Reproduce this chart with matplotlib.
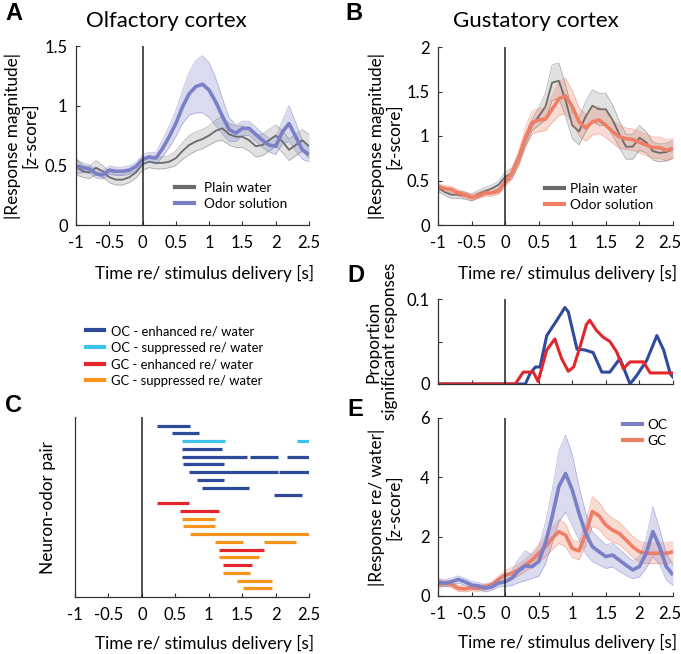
import numpy as np
import matplotlib
matplotlib.use('Agg')
import matplotlib.pyplot as plt
from matplotlib.lines import Line2D
from matplotlib.transforms import ScaledTranslation

plt.rcParams['font.family'] = ['Lato', 'DejaVu Sans']
plt.rcParams['font.size'] = 12

# time grid of the averaged traces (s)
t = [-1.0, -0.9, -0.8, -0.7, -0.6, -0.5, -0.4, -0.3, -0.2, -0.1,
     0.0, 0.1, 0.2, 0.3, 0.4, 0.5, 0.6, 0.7, 0.8, 0.9,
     1.0, 1.1, 1.2, 1.3, 1.4, 1.5, 1.6, 1.7, 1.8, 1.9,
     2.0, 2.1, 2.2, 2.3, 2.4, 2.5]

# panel A - olfactory cortex
a_odor = [0.49, 0.48, 0.47, 0.43, 0.42, 0.46, 0.45, 0.45, 0.46, 0.49,
          0.55, 0.57, 0.56, 0.64, 0.74, 0.85, 0.99, 1.10, 1.16, 1.18,
          1.13, 1.03, 0.91, 0.80, 0.77, 0.81, 0.81, 0.76, 0.71, 0.67,
          0.66, 0.78, 0.85, 0.74, 0.63, 0.59]
a_odor_sem = [0.06, 0.04, 0.035, 0.035, 0.035, 0.035, 0.035, 0.035, 0.035, 0.035,
              0.04, 0.04, 0.05, 0.07, 0.09, 0.11, 0.14, 0.18, 0.22, 0.24,
              0.23, 0.20, 0.15, 0.10, 0.07, 0.06, 0.06, 0.06, 0.06, 0.06,
              0.07, 0.10, 0.15, 0.12, 0.08, 0.06]
a_water = [0.49, 0.45, 0.44, 0.48, 0.45, 0.40, 0.38, 0.38, 0.40, 0.44,
           0.51, 0.53, 0.52, 0.52, 0.53, 0.56, 0.62, 0.67, 0.70, 0.72,
           0.75, 0.79, 0.81, 0.76, 0.74, 0.74, 0.71, 0.66, 0.67, 0.71,
           0.75, 0.70, 0.63, 0.67, 0.71, 0.66]
a_water_sem = [0.07, 0.05, 0.05, 0.06, 0.05, 0.045, 0.045, 0.045, 0.045, 0.045,
               0.05, 0.05, 0.05, 0.05, 0.05, 0.06, 0.07, 0.08, 0.08, 0.08,
               0.08, 0.09, 0.10, 0.09, 0.09, 0.09, 0.09, 0.09, 0.09, 0.09,
               0.09, 0.09, 0.09, 0.09, 0.09, 0.10]

# panel B - gustatory cortex
b_odor = [0.43, 0.41, 0.40, 0.36, 0.34, 0.31, 0.33, 0.36, 0.36, 0.38,
          0.48, 0.58, 0.75, 0.98, 1.15, 1.18, 1.19, 1.30, 1.42, 1.45,
          1.33, 1.16, 1.09, 1.16, 1.18, 1.12, 1.05, 0.99, 0.97, 0.96,
          0.93, 0.90, 0.87, 0.87, 0.84, 0.86]
b_odor_sem = [0.035, 0.035, 0.035, 0.035, 0.035, 0.035, 0.035, 0.035, 0.035, 0.035,
              0.05, 0.06, 0.08, 0.11, 0.13, 0.13, 0.13, 0.15, 0.19, 0.20,
              0.18, 0.16, 0.15, 0.15, 0.15, 0.14, 0.13, 0.13, 0.12, 0.12,
              0.12, 0.12, 0.12, 0.12, 0.12, 0.11]
b_water = [0.42, 0.37, 0.34, 0.34, 0.33, 0.31, 0.35, 0.38, 0.41, 0.45,
           0.54, 0.58, 0.73, 0.95, 1.12, 1.22, 1.33, 1.60, 1.62, 1.40,
           1.12, 1.05, 1.22, 1.34, 1.30, 1.30, 1.18, 1.02, 0.88, 0.88,
           0.98, 0.93, 0.83, 0.81, 0.82, 0.85]
b_water_sem = [0.04, 0.04, 0.04, 0.04, 0.04, 0.04, 0.04, 0.04, 0.04, 0.04,
               0.06, 0.06, 0.06, 0.06, 0.06, 0.10, 0.15, 0.20, 0.20, 0.18,
               0.15, 0.15, 0.17, 0.18, 0.18, 0.18, 0.17, 0.15, 0.14, 0.14,
               0.14, 0.12, 0.10, 0.10, 0.10, 0.10]

# panel E - response relative to water
e_oc = [0.48, 0.43, 0.48, 0.56, 0.48, 0.37, 0.34, 0.26, 0.31, 0.43,
        0.48, 0.60, 0.85, 1.02, 0.99, 1.16, 1.78, 2.67, 3.69, 4.13,
        3.57, 2.79, 2.11, 1.66, 1.49, 1.33, 1.38, 1.21, 1.04, 0.88,
        0.99, 1.44, 2.17, 1.66, 0.99, 0.71]
e_oc_sem = [0.12, 0.12, 0.12, 0.12, 0.12, 0.12, 0.12, 0.12, 0.12, 0.12,
            0.15, 0.25, 0.40, 0.50, 0.40, 0.50, 0.70, 0.90, 1.20, 1.30,
            1.20, 0.90, 0.70, 0.50, 0.45, 0.40, 0.40, 0.38, 0.35, 0.30,
            0.35, 0.50, 0.85, 0.60, 0.45, 0.35]
e_gc = [0.37, 0.43, 0.39, 0.26, 0.24, 0.28, 0.26, 0.31, 0.37, 0.56,
        0.71, 0.76, 0.88, 1.04, 1.21, 1.44, 1.66, 1.94, 2.17, 2.05,
        1.60, 1.52, 2.10, 2.85, 2.70, 2.39, 2.22, 2.11, 1.89, 1.66,
        1.49, 1.44, 1.44, 1.44, 1.44, 1.49]
e_gc_sem = [0.10, 0.10, 0.10, 0.10, 0.10, 0.10, 0.10, 0.10, 0.10, 0.12,
            0.15, 0.20, 0.20, 0.20, 0.25, 0.30, 0.35, 0.38, 0.40, 0.40,
            0.30, 0.30, 0.40, 0.50, 0.45, 0.42, 0.40, 0.38, 0.36, 0.35,
            0.35, 0.35, 0.35, 0.35, 0.35, 0.35]

# panel D - proportion of significant responses
d_oc_t = [-1.0, 0.30, 0.37, 0.45, 0.52, 0.62, 0.77, 0.89, 0.94, 1.07, 1.19,
          1.31, 1.44, 1.56, 1.71, 1.86, 1.96, 2.11, 2.26, 2.36, 2.46, 2.5]
d_oc = [0, 0, 0.012, 0.02, 0.02, 0.057, 0.075, 0.09, 0.085, 0.041, 0.04,
        0.037, 0.014, 0.014, 0.03, 0.0, 0.01, 0.028, 0.057, 0.04, 0.012, 0.008]
d_gc_t = [-1.0, 0.15, 0.27, 0.42, 0.49, 0.62, 0.74, 0.84, 0.94, 1.02, 1.12,
          1.21, 1.26, 1.36, 1.46, 1.56, 1.66, 1.76, 1.86, 2.06, 2.16, 2.5]
d_gc = [0, 0, 0.014, 0.014, 0.003, 0.04, 0.053, 0.03, 0.015, 0.02, 0.045,
        0.07, 0.075, 0.063, 0.055, 0.05, 0.038, 0.018, 0.026, 0.026, 0.013, 0.013]

# panel C - significant epochs per neuron-odor pair
c_row = [1, 2, 3, 3, 4, 5, 5, 5, 6, 7, 7, 8, 9, 10,
         11, 12, 13, 14, 15, 16, 16, 17, 18, 19, 20, 21, 22]
c_start = [0.22, 0.45, 0.60, 2.32, 0.60, 0.60, 1.62, 2.17, 0.62, 0.70, 2.05, 0.82, 0.90, 1.97,
           0.22, 0.57, 0.60, 0.62, 0.72, 1.10, 1.82, 1.15, 1.15, 1.22, 1.22, 1.42, 1.52]
c_end = [0.72, 0.85, 1.25, 2.50, 1.20, 1.58, 2.03, 2.50, 1.23, 2.03, 2.50, 1.23, 1.60, 2.40,
         0.70, 1.15, 1.10, 1.10, 2.50, 1.52, 2.30, 1.82, 1.75, 1.65, 1.62, 1.95, 1.95]
c_kind = ['OC+', 'OC+', 'OC-', 'OC-', 'OC+', 'OC+', 'OC+', 'OC+', 'OC+', 'OC+', 'OC+', 'OC+', 'OC+', 'OC+',
          'GC+', 'GC+', 'GC-', 'GC-', 'GC-', 'GC-', 'GC-', 'GC+', 'GC-', 'GC+', 'GC-', 'GC-', 'GC-']
c_labels = {'OC+': 'OC - enhanced re/ water', 'OC-': 'OC - suppressed re/ water',
            'GC+': 'GC - enhanced re/ water', 'GC-': 'GC - suppressed re/ water'}

xticks = [-1, -0.5, 0, 0.5, 1, 1.5, 2, 2.5]
xticklabels = ['-1', '-0.5', '0', '0.5', '1', '1.5', '2', '2.5']

purple = '#7b80c6'
grey = '#6a6a6a'
salmon = '#ee7f66'
kind_colors = {'OC+': '#2e4a9a', 'OC-': '#3ec1ea', 'GC+': '#e2262b', 'GC-': '#f7941d'}

W, H = 681, 654
fig = plt.figure(figsize=(W / 100, H / 100), dpi=100)

LAB = 12.4   # axis label size
LEG = 9.8    # legend size


def px_axes(left, right, top, bottom):
    return fig.add_axes([left / W, 1 - bottom / H, (right - left) / W, (bottom - top) / H])


def style(ax, ylim, yticks, yticklabels, show_x=True, nudge_last=False):
    ax.set_xlim(-1, 2.5)
    ax.set_ylim(*ylim)
    for s in ['top', 'right']:
        ax.spines[s].set_visible(False)
    for s in ['left', 'bottom']:
        ax.spines[s].set_color('#333333')
        ax.spines[s].set_linewidth(0.9)
    ax.set_xticks(xticks)
    ax.set_xticklabels(xticklabels if show_x else [''] * len(xticks))
    ax.set_yticks(yticks)
    ax.set_yticklabels(yticklabels)
    ax.tick_params(direction='in', length=3, width=0.8, color='#333333', labelsize=12)
    ax.tick_params(axis='x', pad=7)
    ax.tick_params(axis='y', pad=6)
    ax.axvline(0, color='#222222', lw=1.1, zorder=5)
    if nudge_last and show_x:
        lbl = ax.get_xticklabels()[-1]
        lbl.set_transform(lbl.get_transform() + ScaledTranslation(-3 / 100, 0, fig.dpi_scale_trans))


def band(ax, mean, sem, color, lw, label, alpha=0.28):
    m = np.array(mean)
    s = np.array(sem)
    ax.fill_between(t, m - s, m + s, color=color, alpha=alpha, lw=0)
    ax.plot(t, m - s, color=color, lw=0.5, alpha=0.55)
    ax.plot(t, m + s, color=color, lw=0.5, alpha=0.55)
    ax.plot(t, m, color=color, lw=lw, label=label, solid_capstyle='butt')


def xlab(ax, cx_px, left, right, top_off, height):
    ax.set_xlabel('Time re/ stimulus delivery [s]', fontsize=LAB)
    ax.xaxis.set_label_coords((cx_px - left) / (right - left), -top_off / height)


def small_legend(ax, colors, labels, x_px, y_px, pad):
    ax.legend(handles=[Line2D([], [], color=c, lw=3) for c in colors], labels=labels,
              loc='upper left', bbox_to_anchor=(x_px / W, 1 - y_px / H),
              bbox_transform=fig.transFigure, frameon=False,
              handlelength=1.4, handletextpad=pad, labelspacing=0.3,
              borderpad=0, borderaxespad=0, fontsize=LEG)


# ---- A ----
axA = px_axes(76, 309, 46, 225)
band(axA, a_water, a_water_sem, grey, 1.3, 'Plain water', alpha=0.2)
band(axA, a_odor, a_odor_sem, purple, 2.6, 'Odor solution')
style(axA, (0, 1.5), [0, 0.5, 1, 1.5], ['0', '0.5', '1', '1.5'])
axA.set_ylabel('|Response magnitude|\n[z-score]', fontsize=LAB, linespacing=1.05)
axA.yaxis.set_label_coords((38 - 76) / 233, 0.5)
xlab(axA, 205, 76, 309, 40, 179)
small_legend(axA, [grey, purple], ['Plain water', 'Odor solution'], 175, 182, 0.7)
fig.text(166 / W, 1 - 21 / H, 'Olfactory cortex', ha='center', va='center', fontsize=16)

# ---- B ----
axB = px_axes(438, 673, 47, 225)
band(axB, b_water, b_water_sem, grey, 1.3, 'Plain water', alpha=0.2)
band(axB, b_odor, b_odor_sem, salmon, 2.6, 'Odor solution')
style(axB, (0, 2), [0, 0.5, 1, 1.5, 2], ['0', '0.5', '1', '1.5', '2'], nudge_last=True)
axB.set_ylabel('|Response magnitude|\n[z-score]', fontsize=LAB, linespacing=1.05)
axB.yaxis.set_label_coords((402 - 438) / 235, 0.5)
xlab(axB, 568, 438, 673, 40, 178)
small_legend(axB, [grey, salmon], ['Plain water', 'Odor solution'], 545, 183, 0.4)
fig.text(536 / W, 1 - 21 / H, 'Gustatory cortex', ha='center', va='center', fontsize=16)

# ---- C ----
axC = px_axes(75, 309, 417, 597)
for r, x0, x1, k in zip(c_row, c_start, c_end, c_kind):
    axC.hlines(r, x0, x1, color=kind_colors[k], lw=2.3)
style(axC, (23.1, -0.1), [], [])
axC.set_ylabel('Neuron-odor pair', fontsize=LAB)
axC.yaxis.set_label_coords((56 - 75) / 234, 0.5)
xlab(axC, 205, 75, 309, 38, 180)
fig.legend(handles=[Line2D([], [], color=kind_colors[k], lw=3) for k in ['OC+', 'OC-', 'GC+', 'GC-']],
           labels=[c_labels[k] for k in ['OC+', 'OC-', 'GC+', 'GC-']],
           loc='upper left', bbox_to_anchor=(86 / W, 1 - 325 / H), frameon=False,
           handlelength=1.4, handletextpad=0.5, labelspacing=0.35,
           borderpad=0, borderaxespad=0, fontsize=9.4)

# ---- D ----
axD = px_axes(438, 673, 299, 384)
axD.plot(d_oc_t, d_oc, color='#2f4b9e', lw=2.2)
axD.plot(d_gc_t, d_gc, color='#e3262b', lw=2.2)
style(axD, (0, 0.1), [0, 0.05, 0.1], ['0', '', '0.1'], show_x=False)
axD.set_ylabel('Proportion\nsignificant responses', fontsize=LAB, linespacing=1.05)
axD.yaxis.set_label_coords((398 - 438) / 235, 0.5)

# ---- E ----
axE = px_axes(438, 673, 418, 596)
band(axE, e_gc, e_gc_sem, salmon, 2.6, 'GC')
band(axE, e_oc, e_oc_sem, purple, 2.6, 'OC')
style(axE, (0, 6), [0, 2, 4, 6], ['0', '2', '4', '6'], nudge_last=True)
axE.set_ylabel('|Response re/ water|\n[z-score]', fontsize=LAB, linespacing=1.05)
axE.yaxis.set_label_coords((402 - 438) / 235, 0.5)
xlab(axE, 568, 438, 673, 38, 178)
small_legend(axE, [purple, salmon], ['OC', 'GC'], 623, 419, 0.4)

# panel letters
for letter, x, y in [('A', 14, 13), ('B', 354, 13), ('C', 14, 405), ('D', 356, 275), ('E', 355, 410)]:
    fig.text(x / W, 1 - y / H, letter, ha='center', va='center', fontsize=17,
             fontweight='bold', family=['Liberation Sans', 'DejaVu Sans'])

fig.savefig('out.png', dpi=100)
